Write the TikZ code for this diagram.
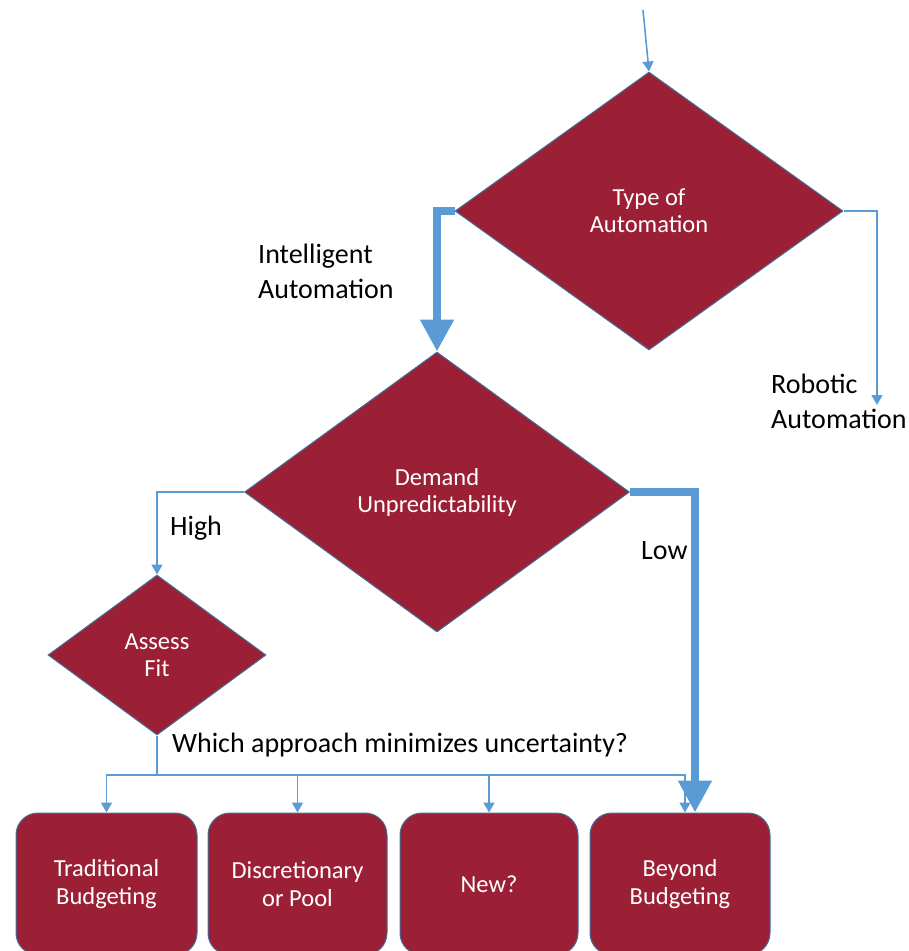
\documentclass[tikz,border=0pt]{standalone}
\usepackage{fontspec}
\setmainfont{Carlito}
\usetikzlibrary{shapes.geometric,arrows.meta}
\definecolor{wine}{HTML}{9B2035}
\definecolor{rim}{HTML}{41719C}
\definecolor{flow}{HTML}{5B9BD5}
\begin{document}
\begin{tikzpicture}[x=1pt,y=-1pt,
  decision/.style={diamond, fill=wine, draw=rim, line width=1pt, text=white,
    align=center, inner sep=0pt, font=\fontsize{24.5}{27}\selectfont},
  outcome/.style={rectangle, rounded corners=22pt, fill=wine, draw=rim,
    line width=1pt, text=white, align=center, minimum height=142pt,
    inner sep=0pt, font=\fontsize{24.5}{28}\selectfont},
  thinflow/.style={draw=flow, line width=1.6pt, -{Triangle[width=11pt,length=10pt]}},
  thickflow/.style={draw=flow, line width=8pt, -{Triangle[width=32pt,length=32pt]}},
  lbl/.style={font=\fontsize{28}{35}\selectfont, align=left, inner sep=0pt, anchor=west}
]
\useasboundingbox (0,0) rectangle (909,951);
\clip (0,0) rectangle (909,951);

% decisions
\node[decision, minimum width=388pt, minimum height=278pt] (type) at (649,211)
  {Type of\\Automation};
\node[decision, minimum width=385pt, minimum height=280pt] (demand) at (437,492)
  {Demand\\Unpredictability};
\node[decision, minimum width=218pt, minimum height=160pt] (fit) at (157,655)
  {Assess\\Fit};

% outcomes
\node[outcome, minimum width=181pt] (trad) at (106.5,884) {Traditional\\Budgeting};
\node[outcome, minimum width=179pt] (disc) at (297.5,884) {Discretionary\\or Pool};
\node[outcome, minimum width=178pt] (new)  at (489,884)   {New?};
\node[outcome, minimum width=180pt] (beyond) at (680,884) {Beyond\\Budgeting};

% free ends
\coordinate (entry) at (643,10);
\coordinate (robot) at (877,405);
\coordinate (bus) at (157,775);

% connectors
\draw[thinflow] (entry) -- (type.north);
\draw[thickflow] (type.west) -| (demand.north);
\draw[thinflow] (type.east) -| (robot);
\draw[thinflow] (demand.west) -| (fit.north);
\draw[thickflow] (demand.east) -| ([xshift=15pt]beyond.north);
\draw[draw=flow, line width=1.6pt] (fit.south) -- (bus);
\draw[thinflow] (bus) -| (trad.north);
\draw[thinflow] (bus) -| (disc.north);
\draw[thinflow] (bus) -| (new.north);
\draw[thinflow] (bus) -| ([xshift=5pt]beyond.north);

% labels
\node[lbl] (lintel) at (258,271) {Intelligent\\Automation};
\node[lbl] (lrobot) at (771,401) {Robotic\\Automation};
\node[lbl] (lhigh) at (170,528) {High};
\node[lbl] (llow) at (641,551) {Low};
\node[lbl] (lwhich) at (172,745) {Which approach minimizes uncertainty?};
\end{tikzpicture}
\end{document}
